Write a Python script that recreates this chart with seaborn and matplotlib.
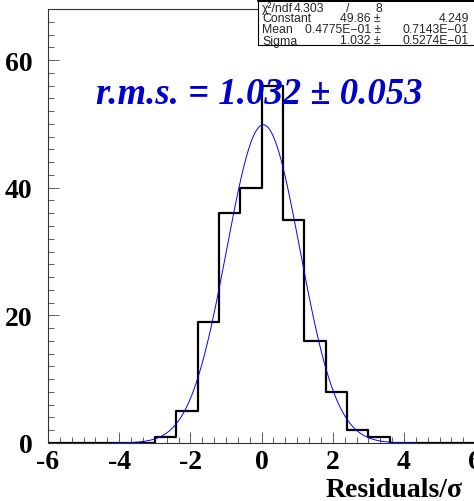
import numpy as np
import pandas as pd
import seaborn as sns
from matplotlib import pyplot as plt
from matplotlib.ticker import MultipleLocator
from matplotlib.patches import Rectangle

# histogram of residuals, 20 bins of 0.6 from -6 to 6
bin_edges = [-6.0 + 0.6 * i for i in range(21)]
counts = [0, 0, 0, 0, 0, 1, 5, 19, 36, 40, 56, 35, 16, 8, 2, 1, 0, 0, 0, 0]

# gaussian fit parameters from the stats box
fit_const = 49.86
fit_mean = 0.04775
fit_sigma = 1.032
fit_range = (-4.2, 4.3)

x_ticks = [-6, -4, -2, 0, 2, 4, 6]
x_ticklabels = ['-6', '-4', '-2', '0', '2', '4', '6']
y_ticks = [0, 20, 40, 60]
y_ticklabels = ['0', '20', '40', '60']

stats_rows = [
    ("\u03c7\u00b2/ndf", "4.303", "/", "8"),
    ("Constant", "49.86 \u00b1", "", "4.249"),
    ("Mean", "0.4775E\u221201 \u00b1", "", "0.7143E\u221201"),
    ("Sigma", "1.032 \u00b1", "", "0.5274E\u221201"),
]
rms_label = "r.m.s. = 1.032 \u00b1 0.053"

sns.set_style('ticks')
plt.rcParams['font.family'] = ['Liberation Serif', 'DejaVu Serif']

centers = [(bin_edges[i] + bin_edges[i + 1]) / 2 for i in range(len(counts))]
hist = pd.DataFrame({'res': centers, 'n': counts})

fig = plt.figure(figsize=(4.74, 5.02), dpi=100)
ax = fig.add_axes([48 / 474, 58 / 502, 427.2 / 474, 434 / 502])

sns.histplot(data=hist, x='res', weights='n', bins=bin_edges, element='step',
             fill=False, color='black', lw=1.6, ax=ax)

xs = np.linspace(fit_range[0], fit_range[1], 400)
gaus = pd.DataFrame({'x': xs,
                     'y': fit_const * np.exp(-0.5 * ((xs - fit_mean) / fit_sigma) ** 2)})
sns.lineplot(data=gaus, x='x', y='y', color='#0000ff', lw=0.7, ax=ax)

ax.set_xticks(x_ticks)
ax.set_xticklabels(x_ticklabels, fontweight='bold')
ax.set_yticks(y_ticks)
ax.set_yticklabels(y_ticklabels, fontweight='bold')
ax.set_xlim(-6, 6)
ax.set_ylim(0, 68)
ax.xaxis.set_minor_locator(MultipleLocator(1 / 3))
ax.yaxis.set_minor_locator(MultipleLocator(2))
ax.tick_params(which='both', direction='in', top=False, right=False, width=0.6,
               color='#444444', labelcolor='black')
ax.tick_params(which='major', length=8, labelsize=20)
ax.tick_params(axis='y', which='major', pad=11)
ax.tick_params(axis='x', which='major', pad=4)
ax.tick_params(which='minor', length=4)
for s in ax.spines.values():
    s.set_linewidth(0.8)
    s.set_color('#333333')
ax.set_xlabel('')
ax.set_ylabel('')

fig.text(326 / 474, 5 / 502, 'Residuals/\u03c3', ha='left', va='baseline',
         fontsize=20, fontweight='bold', color='black')

ax.text((96 - 48) / 427.2, (444 - 104) / 434,
        rms_label, transform=ax.transAxes, color='#0000cc',
        fontsize=26.5, fontweight='bold', fontstyle='italic', va='baseline')

# stats box
bx0, by0 = 258 / 474, 1 - 46 / 502
fig.patches.append(Rectangle((bx0, by0), 1.0 - bx0 + 0.01, 46 / 502 + 0.01,
                             transform=fig.transFigure, facecolor='white',
                             edgecolor='black', lw=0.8, zorder=5))
fig.add_artist(plt.Line2D([bx0, 1.0], [1 - 1 / 502, 1 - 1 / 502], color='black',
                          lw=2.2, transform=fig.transFigure, zorder=6))
row_y = [8.5, 19.5, 30.5, 41.5]
for (name, v1, sep, v2), yy in zip(stats_rows, row_y):
    y = 1 - yy / 502
    kw = dict(fontsize=8.8, family=['Liberation Sans', 'DejaVu Sans'], va='center',
              zorder=7, transform=fig.transFigure)
    fig.text(262 / 474, y, name, ha='left', **kw)
    if sep:
        fig.text(294 / 474, y, v1, ha='left', **kw)
        fig.text(346 / 474, y, sep, ha='left', **kw)
        fig.text(382 / 474, y, v2, ha='right', **kw)
    else:
        fig.text(381 / 474, y, v1, ha='right', **kw)
        fig.text(469 / 474, y, v2, ha='right', **kw)

fig.savefig('out.png', dpi=100)
